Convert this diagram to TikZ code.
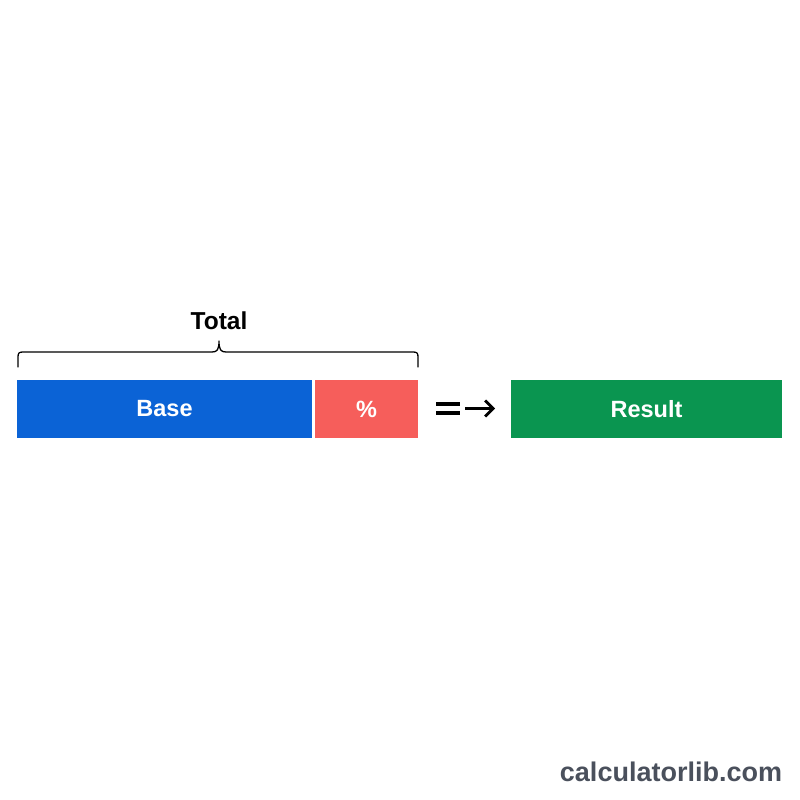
\documentclass[tikz,border=0pt]{standalone}
\usepackage{fontspec}
\setmainfont{Liberation Sans}
\usetikzlibrary{arrows.meta}
\definecolor{baseblue}{HTML}{0B63D6}
\definecolor{pctred}{HTML}{F65E5B}
\definecolor{resgreen}{HTML}{0A9550}
\definecolor{wmgray}{HTML}{4A505C}
\tikzset{
  bar/.style={draw=none, minimum height=58pt, inner sep=0pt, text=white, font=\bfseries\fontsize{23.5}{28}\selectfont},
  lbl/.style={font=\bfseries\fontsize{24.5}{29}\selectfont, text=black},
  bracepath/.style={line width=1.3pt, black, line cap=round, line join=round},
  symline/.style={line width=3.2pt, black},
}
\begin{document}
\begin{tikzpicture}[x=1pt,y=-1pt]
\useasboundingbox (0,0) rectangle (800,800);
\fill[white] (0,0) rectangle (800,800);
\node[bar, fill=baseblue, minimum width=295pt] (base) at (164.5,409) {Base};
\node[bar, fill=pctred, minimum width=103pt] (pct) at (366.5,409) {\%};
\node[bar, fill=resgreen, minimum width=271pt] (res) at (646.5,409) {Result};
\node[lbl] (total) at (219,321) {Total};
% brace
\draw[bracepath] (18,367) -- (18,357) .. controls (18,353) and (19,352) .. (23,352)
  -- (212,352) .. controls (217,352) and (219,350) .. (219,341)
  .. controls (219,350) and (221,352) .. (226,352)
  -- (413,352) .. controls (417,352) and (418,353) .. (418,357) -- (418,367);
% equals and arrow
\coordinate (eqa) at (436,404);
\coordinate (eqb) at (460,404);
\coordinate (eqc) at (436,413);
\coordinate (eqd) at (460,413);
\draw[symline] (eqa) -- (eqb);
\draw[symline] (eqc) -- (eqd);
\coordinate (arA) at (465,408.5);
\coordinate (arB) at (495,408.5);
\draw[line width=2.8pt, -{Straight Barb[length=8pt,width=16pt,line width=2.8pt]}] (arA) -- (arB);
\node[font=\bfseries\fontsize{27}{32}\selectfont, text=wmgray] (wm) at (671,772) {calculatorlib.com};
\end{tikzpicture}
\end{document}
